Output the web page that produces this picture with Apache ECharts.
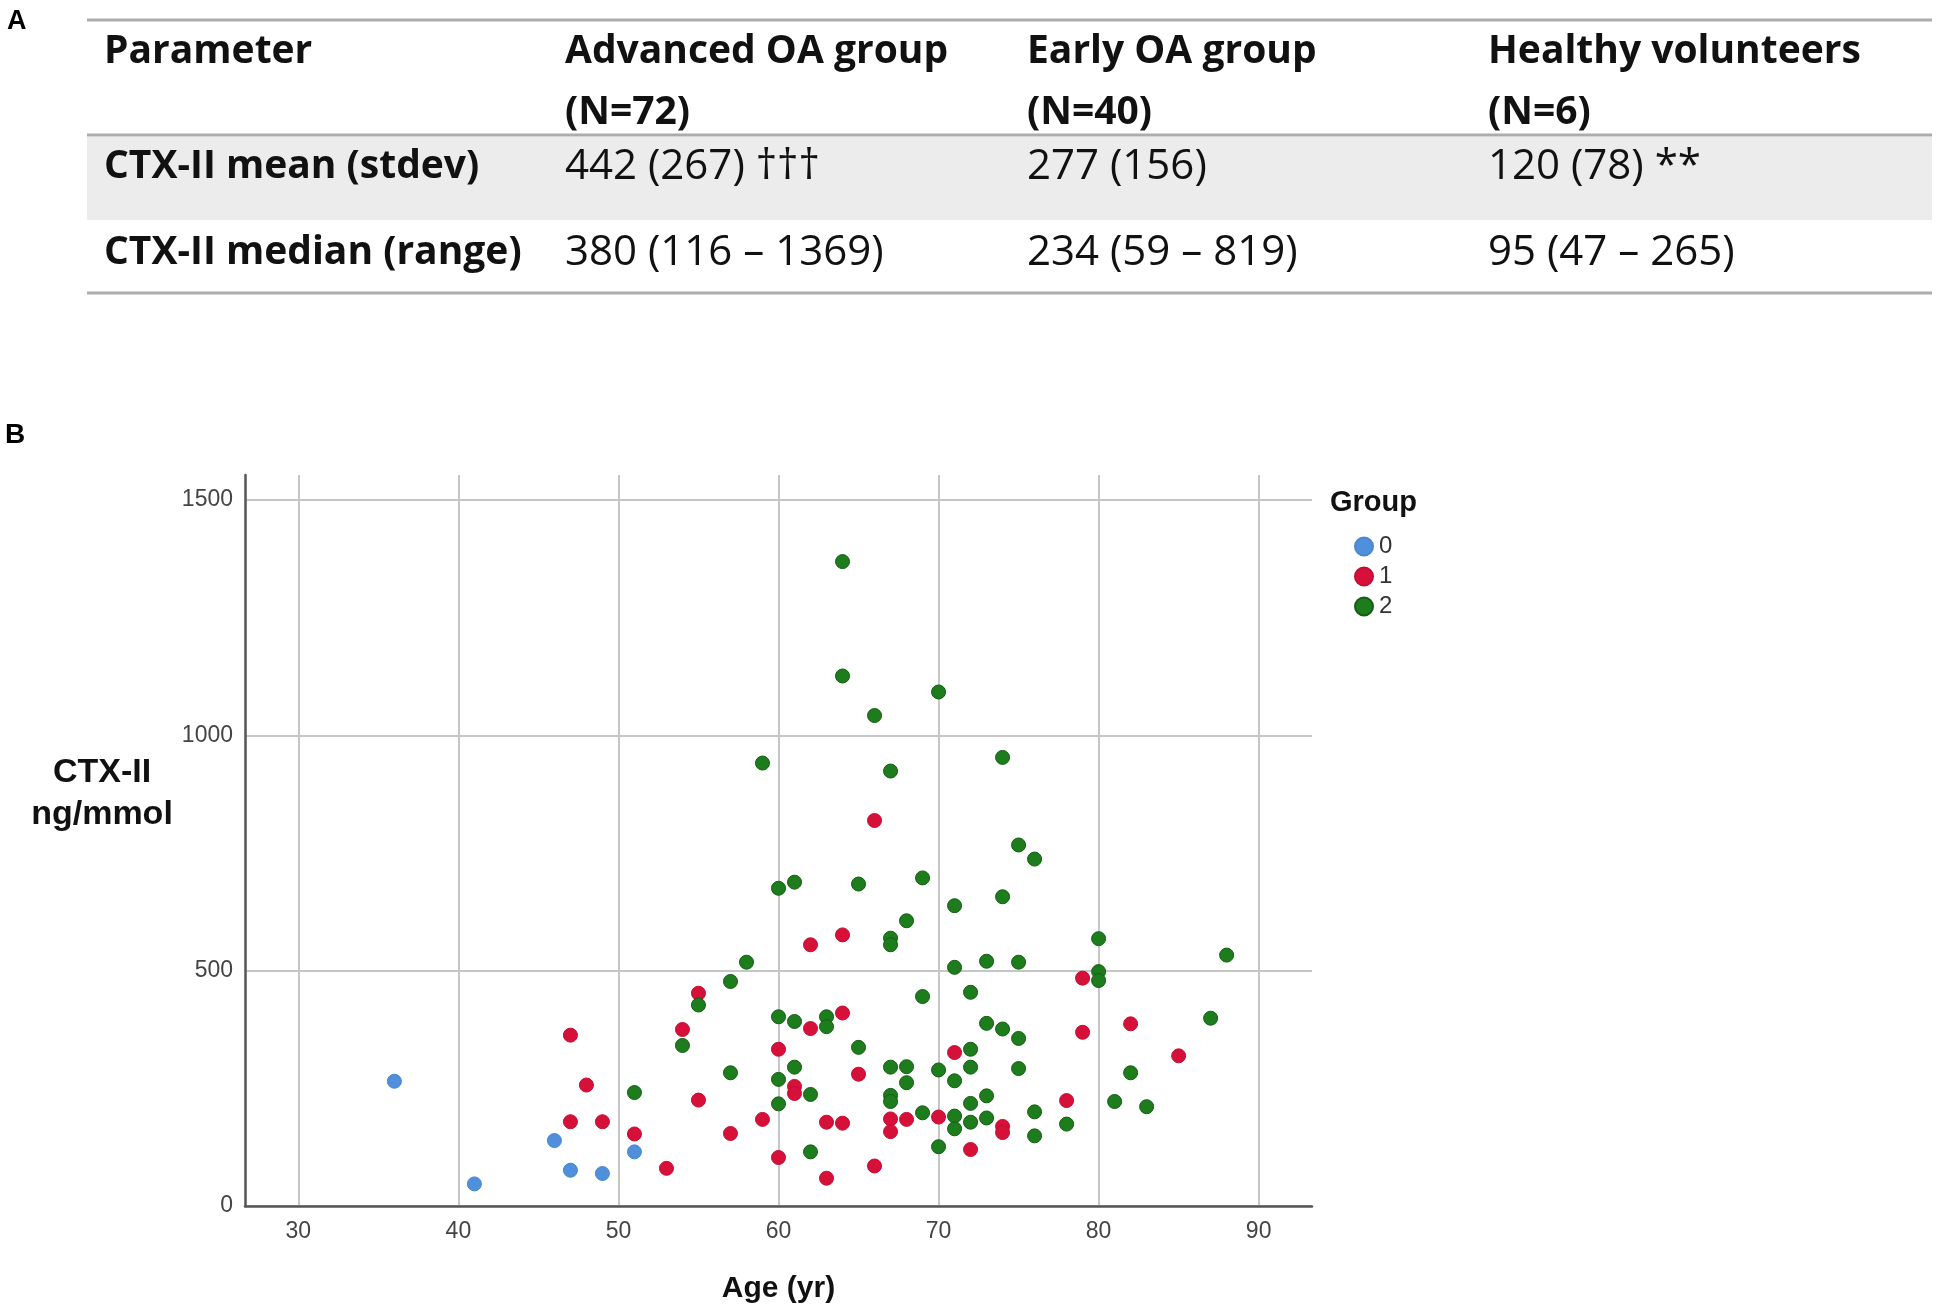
<!DOCTYPE html>
<html>
<head>
<meta charset="utf-8">
<script src="https://cdn.jsdelivr.net/npm/echarts@6/dist/echarts.min.js"></script>
<style>
html,body{margin:0;padding:0;background:#fff;}
#main{width:1950px;height:1313px;}
</style>
</head>
<body>
<div id="main"></div>
<script>
// ---- Panel A table ----
const tableHeader = ['Parameter', 'Advanced OA group\n(N=72)', 'Early OA group\n(N=40)', 'Healthy volunteers\n(N=6)'];
const rowLabels = ['CTX-II mean (stdev)', 'CTX-II median (range)'];
const meanRow = ['442 (267) \u2020\u2020\u2020', '277 (156)', '120 (78) **'];
const medianRow = ['380 (116 \u2013 1369)', '234 (59 \u2013 819)', '95 (47 \u2013 265)'];

// ---- Panel B scatter ----
const groupNames = ['0', '1', '2'];
const age0 = [36, 41, 46, 47, 49, 51];
const ctx0 = [265, 47, 139, 76, 69, 115];
const age1 = [47, 47, 48, 49, 51, 53, 54, 55, 55, 57, 59, 60, 60, 61, 61, 62, 62, 63, 63, 64, 64, 64, 65, 66, 66, 67, 67, 68, 70, 71, 72, 74, 74, 78, 79, 79, 82, 85];
const ctx1 = [363, 179, 257, 179, 153, 80, 375, 452, 225, 154, 184, 333, 103, 254, 239, 555, 377, 178, 59, 576, 410, 176, 280, 85, 819, 185, 158, 184, 189, 326, 120, 169, 156, 224, 484, 369, 387, 319];
const age2 = [51, 54, 55, 57, 57, 58, 59, 60, 60, 60, 60, 61, 61, 61, 62, 62, 63, 63, 64, 64, 65, 65, 66, 67, 67, 67, 67, 67, 67, 68, 68, 68, 69, 69, 69, 70, 70, 70, 71, 71, 71, 71, 71, 72, 72, 72, 72, 72, 73, 73, 73, 73, 74, 74, 74, 75, 75, 75, 75, 76, 76, 76, 78, 80, 80, 80, 81, 82, 83, 87, 88];
const ctx2 = [241, 341, 427, 477, 283, 518, 941, 675, 402, 269, 217, 688, 392, 295, 237, 115, 402, 381, 1369, 1126, 684, 337, 1042, 924, 569, 555, 295, 235, 222, 606, 296, 262, 697, 445, 198, 1092, 289, 126, 638, 507, 266, 191, 164, 454, 333, 295, 218, 178, 520, 388, 234, 187, 953, 657, 376, 767, 518, 356, 292, 737, 200, 149, 174, 568, 498, 479, 222, 283, 211, 399, 533];
const xTicks = [30, 40, 50, 60, 70, 80, 90];
const yTicks = [0, 500, 1000, 1500];

const colors = ['#4f90dc', '#d7103a', '#1d7d1d'];
const borders = ['#4a86cc', '#c20e33', '#145c14'];

const zip = (a, b) => a.map((v, i) => [v, b[i]]);
const groups = [zip(age0, ctx0), zip(age1, ctx1), zip(age2, ctx2)];

const BOLD = 'bold 39px "Open Sans"';
const REG = '42px "Open Sans"';
const colX = [104, 565, 1027, 1488];

const graphics = [];
// panel labels
graphics.push({type: 'text', left: 7, top: 8, style: {text: 'A', font: 'bold 27px "Liberation Sans"', fill: '#000'}});
graphics.push({type: 'text', left: 5, top: 421, style: {text: 'B', font: 'bold 28px "Liberation Sans"', fill: '#000'}});
// table band and rules
graphics.push({type: 'rect', shape: {x: 87, y: 137, width: 1845, height: 83}, style: {fill: '#ececec'}});
[20, 135, 293].forEach(y => graphics.push({type: 'line', shape: {x1: 87, y1: y, x2: 1932, y2: y}, style: {stroke: '#acacac', lineWidth: 3}}));
// header
tableHeader.forEach((t, i) => graphics.push({type: 'text', left: colX[i], top: 21, style: {text: t, font: BOLD, fill: '#111', lineHeight: 61}}));
// rows
rowLabels.forEach((t, r) => {
  const y = r === 0 ? 167 : 253;
  graphics.push({type: 'text', x: colX[0], y: y, style: {text: t, font: BOLD, fill: '#111', verticalAlign: 'middle'}});
  const vals = r === 0 ? meanRow : medianRow;
  vals.forEach((v, i) => graphics.push({type: 'text', x: colX[i + 1], y: y, style: {text: v, font: REG, fill: '#111', verticalAlign: 'middle'}}));
});
// y axis title
graphics.push({type: 'text', x: 102, y: 794, style: {text: 'CTX-II\nng/mmol', font: 'bold 34px "Liberation Sans"', fill: '#111', align: 'center', verticalAlign: 'middle', lineHeight: 42}});
// legend title
graphics.push({type: 'text', x: 1330, y: 503, style: {text: 'Group', font: 'bold 29px "Liberation Sans"', fill: '#111', verticalAlign: 'middle'}});

const chart = echarts.init(document.getElementById('main'), null, {renderer: 'canvas'});
chart.setOption({
  backgroundColor: '#fff',
  animation: false,
  graphic: graphics,
  grid: {left: 245, top: 475, width: 1067, height: 731, containLabel: false},
  legend: {
    data: groupNames, orient: 'vertical', left: 1354, top: 534, icon: 'circle',
    itemWidth: 18, itemHeight: 18, itemGap: 5, padding: 0,
    textStyle: {fontFamily: 'Liberation Sans', fontSize: 24, color: '#333', padding: [0, 0, 0, 1], lineHeight: 25}
  },
  xAxis: {
    type: 'value', min: 26.6667, max: 93.3333,
    name: 'Age (yr)', nameLocation: 'middle', nameGap: 68,
    nameTextStyle: {fontFamily: 'Liberation Sans', fontWeight: 'bold', fontSize: 30, color: '#111'},
    axisLine: {show: true, lineStyle: {color: '#555', width: 2.5}},
    axisTick: {show: false, customValues: xTicks},
    axisLabel: {customValues: xTicks, margin: 14, fontFamily: 'Liberation Sans', fontSize: 23, color: '#444'},
    splitLine: {show: true, lineStyle: {color: '#c6c6c6', width: 2}}
  },
  yAxis: {
    type: 'value', min: 0, max: 1553, interval: 500,
    axisLine: {show: true, lineStyle: {color: '#555', width: 2.5}},
    axisTick: {show: false, customValues: yTicks},
    axisLabel: {customValues: yTicks, margin: 12, fontFamily: 'Liberation Sans', fontSize: 23, color: '#444', formatter: v => String(v)},
    splitLine: {show: true, lineStyle: {color: '#c6c6c6', width: 2}}
  },
  series: groups.map((d, i) => ({
    name: groupNames[i], type: 'scatter', data: d, symbol: 'circle', symbolSize: 14,
    itemStyle: {color: colors[i], borderColor: borders[i], borderWidth: 1, opacity: 1}
  }))
});
</script>
</body>
</html>
